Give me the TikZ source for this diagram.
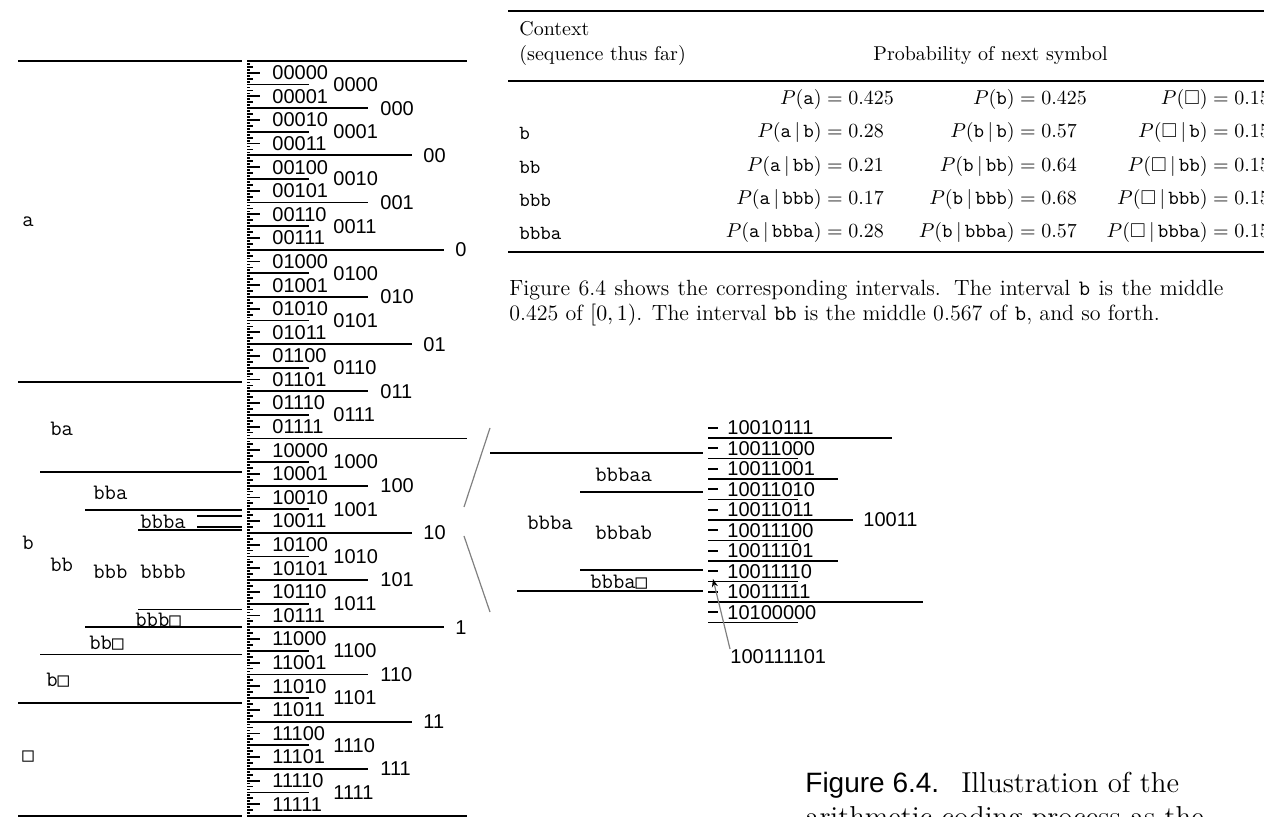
\documentclass[tikz,border=0pt]{standalone}
\usepackage{fontspec}
\usepackage{amsmath}
\usepackage{amssymb}
\usetikzlibrary{arrows.meta}
\newfontfamily\binfont{Liberation Sans}
\newfontfamily\capfont{Liberation Sans}
\newfontfamily\boxfont{DejaVu Sans Mono}
\newcommand{\eofsym}{{\boxfont\fontsize{9.5}{10}\selectfont\char"25A1}}
\newcommand{\given}{\,|\,}
\newcommand{\probeq}[2]{\makebox[0pt][r]{$#1$}${}={}$\makebox[0pt][l]{$#2$}}

\tikzset{
  rule/.style={line width=0.9pt},
  bits/.style={font=\binfont, anchor=west, inner sep=0pt},
  seq/.style={font=\ttfamily\fontsize{11}{12}\selectfont, anchor=west, inner sep=0pt},
  zoomline/.style={gray, line width=0.6pt},
  tabrule/.style={line width=1.4pt},
  tabtext/.style={anchor=west, inner sep=0pt},
}

\begin{document}
\begin{tikzpicture}[x=0.5pt, y=-0.5pt]
    \useasboundingbox (0,0) rectangle (1264,817);
    \clip (0,0) rectangle (1264,817);

    % source intervals
    \foreach \yy/\xs in {61/18, 381.9/18, 702.8/18, 816/18, 471.7/40, 654.6/40,
        510.1/85, 627.2/85, 530.0/138, 609.6/138, 515.7/197, 527.0/197}
        \draw[rule] (\xs,\yy) -- (242,\yy);
    \node[seq] (sa) at (22,222) {a};
    \node[seq] (sb) at (22,543) {b};
    \node[seq] (se) at (22,757) {\eofsym};
    \node[seq] (sba) at (50,429) {ba};
    \node[seq] (sbb) at (50,565) {bb};
    \node[seq] (sbe) at (46,680) {b\eofsym};
    \node[seq] (sbba) at (93,493) {bba};
    \node[seq] (sbbb) at (93,572) {bbb};
    \node[seq] (sbbe) at (89,643) {bb\eofsym};
    \node[seq] (sbbba) at (140,522) {bbba};
    \node[seq] (sbbbb) at (140,572) {bbbb};
    \node[seq] (sbbbe) at (135,620) {bbb\eofsym};

    % binary intervals
    \draw[rule] (247,61) -- (467,61);
    \draw[rule] (247,816) -- (467,816);
    \foreach \lev/\xe in {0/467, 1/444, 2/412, 3/368, 4/309, 5/260, 6/253, 7/250}{
        \pgfmathtruncatemacro\last{2^\lev-1}
        \foreach \j in {0,...,\last}
            \draw[rule] (247,{61+755/2^(\lev+1)*(2*\j+1)}) -- (\xe,{61+755/2^(\lev+1)*(2*\j+1)});
    }
    \foreach \lev/\xl/\strs in {1/455/{0,1}, 2/423/{00,01,10,11},
        3/380/{000,001,010,011,100,101,110,111},
        4/333/{0000,0001,0010,0011,0100,0101,0110,0111,1000,1001,1010,1011,1100,1101,1110,1111},
        5/272/{00000,00001,00010,00011,00100,00101,00110,00111,01000,01001,01010,01011,01100,01101,01110,01111,
               10000,10001,10010,10011,10100,10101,10110,10111,11000,11001,11010,11011,11100,11101,11110,11111}}
        \foreach \s [count=\j from 0] in \strs
            \node[bits] (b\s) at (\xl,{61+755/2^\lev*(\j+0.5)}) {\s};

    % magnified bbba
    \coordinate (zt1) at (490,428);
    \coordinate (zt2) at (464,507);
    \coordinate (zb1) at (464,536);
    \coordinate (zb2) at (490,612);
    \draw[zoomline] (zt1) -- (zt2);
    \draw[zoomline] (zb1) -- (zb2);
    \foreach \yy/\xs in {453/490, 492/580, 570/580, 591/517}
        \draw[rule] (\xs,\yy) -- (703,\yy);
    \node[seq] (mbbba) at (527,523) {bbba};
    \node[seq] (mbbbaa) at (595,475) {bbbaa};
    \node[seq] (mbbbab) at (595,533) {bbbab};
    \node[seq] (mbbbae) at (590,582) {bbba\eofsym};
    \foreach \k/\xe in {0/892, 1/798, 2/838, 3/798, 4/853, 5/798, 6/838, 7/798, 8/923, 9/798}
        \draw[rule] (708,{438+20.5*\k}) -- (\xe,{438+20.5*\k});
    \foreach \s [count=\i from 0] in {10010111,10011000,10011001,10011010,10011011,
        10011100,10011101,10011110,10011111,10100000}{
        \draw[rule] (708,{427.75+20.5*\i}) -- (718,{427.75+20.5*\i});
        \node[bits] (z\s) at (727,{427.75+20.5*\i}) {\s};
    }
    \node[bits] (z10011) at (863,520) {10011};
    \node[bits, anchor=north west] (ptr) at (730,649) {100111101};
    \coordinate (ptrmark) at (713,579);
    \draw[zoomline, -{Stealth[length=4pt, width=3pt, black]}] (ptr.north west) -- (ptrmark);

    % probability table
    \draw[tabrule] (508,11) -- (1264,11);
    \draw[line width=0.9pt] (508,81) -- (1264,81);
    \draw[tabrule] (508,252) -- (1264,252);
    \node[tabtext] (ctx) at (519,29) {Context};
    \node[tabtext] (seqtf) at (519,56) {(sequence thus far)};
    \node[tabtext] (probhd) at (873,56) {Probability of next symbol};
    \node (pa0) at (835,100) {\probeq{P(\mathtt{a})}{0.425}};
    \node (pb0) at (1028,100) {\probeq{P(\mathtt{b})}{0.425}};
    \node (pe0) at (1221,100) {\probeq{P(\Box)}{0.15}};
    \foreach \ctx/\yy/\pa/\pb [count=\r] in {b/133/0.28/0.57, bb/167/0.21/0.64,
        bbb/200/0.17/0.68, bbba/233/0.28/0.57}{
        \node[tabtext] (ctx\r) at (519,\yy) {\texttt{\ctx}};
        \node (pa\r) at (835,\yy) {\probeq{P(\mathtt{a}\given\mathtt{\ctx})}{\pa}};
        \node (pb\r) at (1028,\yy) {\probeq{P(\mathtt{b}\given\mathtt{\ctx})}{\pb}};
        \node (pe\r) at (1221,\yy) {\probeq{P(\Box\given\mathtt{\ctx})}{0.15}};
    }

    % text below table
    \node[tabtext, anchor=base west, font=\fontsize{11}{13.6}\selectfont] (para1) at (509,296)
        {\makebox[357pt][s]{Figure 6.4 shows the corresponding intervals. The interval \texttt{b} is the middle}};
    \node[tabtext, anchor=base west, font=\fontsize{11}{13.6}\selectfont] (para2) at (509,321)
        {0.425 of $[0,1)$. The interval \texttt{bb} is the middle 0.567 of \texttt{b}, and so forth.};

    % caption
    \node[tabtext, anchor=base west, font=\fontsize{14.4}{17}\selectfont] (cap1) at (805,792)
        {{\capfont\fontsize{14}{17}\selectfont Figure 6.4.}\hspace{11pt}Illustration of the};
    \node[tabtext, anchor=base west, font=\fontsize{14.4}{17}\selectfont] (cap2) at (805,826)
        {arithmetic coding process as the};
\end{tikzpicture}
\end{document}
